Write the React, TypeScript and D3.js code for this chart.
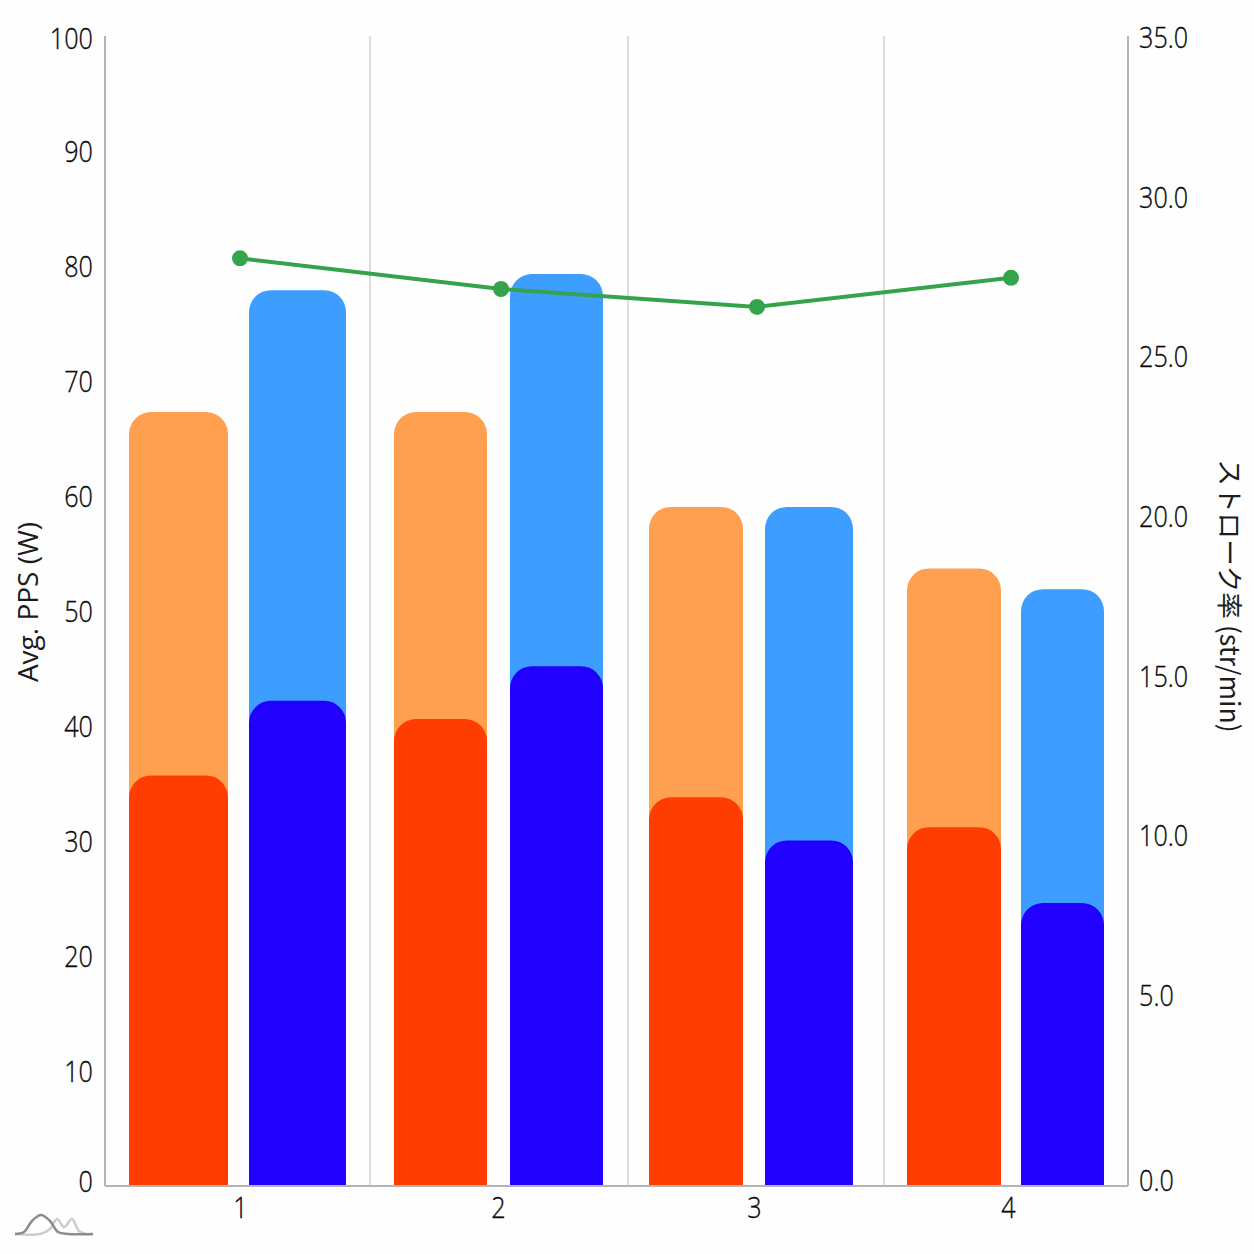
import { useEffect, useRef } from 'react';
import * as d3 from 'd3';

const intervals = ['1', '2', '3', '4'];
// interval lengths set the uneven width of each column
const intervalLengths = [26.5, 25.8, 25.6, 24.4];
const leftPeak = [67.3, 67.3, 59.05, 53.7];
const leftAvg = [35.7, 40.6, 33.8, 31.2];
const rightPeak = [77.9, 79.3, 59.05, 51.9];
const rightAvg = [42.2, 45.2, 30.05, 24.6];
const leftBarSize = [9.9, 9.3, 9.4, 9.4];
const rightBarSize = [9.7, 9.3, 8.8, 8.3];
const strokeRate = [28.1, 27.14, 26.58, 27.49];
const strokeRateAt = [13.5, 39.6, 65.2, 90.6];
const labelAt = [13.5, 39.3, 64.9, 90.3];
const powerTicks = [0, 10, 20, 30, 40, 50, 60, 70, 80, 90, 100];
const rateTicks = [0, 5, 10, 15, 20, 25, 30, 35];

const WIDTH = 1254;
const HEIGHT = 1254;
const LEFT = 105;
const RIGHT = 1128;
const TOP = 36;
const BOTTOM = 1186;
const RADIUS = 22;
// inset of the first bar and gap between the pair, per column, in x units
const barInset = [2.4, 2.4, 2.1, 2.3];
const barGap = [2.1, 2.3, 2.2, 2.0];

const FONT = '"Open Sans", sans-serif';
const SQUEEZE = 0.84;

const edges = d3.cumsum([0, ...intervalLengths]);

const x = d3.scaleLinear().domain([0, edges[edges.length - 1]]).range([LEFT, RIGHT]);
const yPower = d3.scaleLinear().domain([0, 100]).range([BOTTOM, TOP]);
// the printed right axis is not evenly spaced below 5.0
const yRate = d3.scaleLinear().domain([0, 5, 35]).range([1181, 996, 38]);

function topRounded(x0: number, x1: number, y0: number, y1: number, r: number) {
  const p = d3.path();
  p.moveTo(x0, y0);
  p.lineTo(x0, y1 + r);
  p.arcTo(x0, y1, x0 + r, y1, r);
  p.lineTo(x1 - r, y1);
  p.arcTo(x1, y1, x1, y1 + r, r);
  p.lineTo(x1, y0);
  p.closePath();
  return p.toString();
}

export default function App() {
  const ref = useRef<SVGSVGElement>(null);

  useEffect(() => {
    const svg = d3.select(ref.current);
    svg.selectAll('*').remove();

    svg.append('rect').attr('width', WIDTH).attr('height', HEIGHT).attr('fill', '#fefefe');

    // column separators
    svg
      .append('g')
      .selectAll('line')
      .data(edges.slice(1, -1))
      .join('line')
      .attr('x1', (d) => x(d))
      .attr('x2', (d) => x(d))
      .attr('y1', TOP)
      .attr('y2', BOTTOM)
      .attr('stroke', '#d2d2d2')
      .attr('stroke-width', 1.5);

    // bars, the lighter peak behind the darker average
    const bars = [
      { peak: leftPeak, avg: leftAvg, light: '#ff9f50', dark: '#ff3d00', side: 'left' },
      { peak: rightPeak, avg: rightAvg, light: '#3d9eff', dark: '#2200ff', side: 'right' },
    ];
    bars.forEach((b) => {
      const span = (i: number) => {
        const start = edges[i] + barInset[i];
        if (b.side === 'left') return [x(start), x(start + leftBarSize[i])];
        const s = start + leftBarSize[i] + barGap[i];
        return [x(s), x(s + rightBarSize[i])];
      };
      const g = svg.append('g');
      [
        { values: b.peak, color: b.light },
        { values: b.avg, color: b.dark },
      ].forEach((layer) => {
        g.selectAll(null)
          .data(layer.values)
          .join('path')
          .attr('fill', layer.color)
          .attr('d', (d, i) => {
            const [x0, x1] = span(i);
            return topRounded(x0, x1, BOTTOM, yPower(d), RADIUS);
          });
      });
    });

    // axes
    const leftAxis = svg
      .append('g')
      .attr('transform', `translate(${LEFT},0)`)
      .call(d3.axisLeft(yPower).tickValues(powerTicks).tickSize(0).tickPadding(12));
    const rightAxis = svg
      .append('g')
      .attr('transform', `translate(${RIGHT},0)`)
      .call(
        d3
          .axisRight(yRate)
          .tickValues(rateTicks)
          .tickSize(0)
          .tickPadding(11)
          .tickFormat((d) => d3.format('.1f')(d as number))
      );
    const bottomAxis = svg
      .append('g')
      .attr('transform', `translate(0,${BOTTOM})`)
      .call(
        d3
          .axisBottom(x)
          .tickValues(labelAt)
          .tickSize(0)
          .tickPadding(11)
          .tickFormat((_, i) => intervals[i])
      );

    [leftAxis, rightAxis].forEach((a) => {
      a.select('.domain').attr('d', `M0,${TOP}V${BOTTOM}`);
    });
    bottomAxis.select('.domain').attr('d', `M${LEFT},0H${RIGHT}`);
    [leftAxis, rightAxis, bottomAxis].forEach((a) => {
      a.select('.domain').attr('stroke', '#b4b4b4').attr('stroke-width', 2);
      a.selectAll('text')
        .attr('fill', '#0a0a0a')
        .attr('stroke', '#0a0a0a')
        .attr('stroke-width', 0.35)
        .style('font-family', FONT)
        .style('font-weight', 300)
        .style('font-size', '30px');
    });
    // squeeze the tick text sideways, anchored where the axis put it
    leftAxis
      .selectAll<SVGTextElement, number>('text')
      .attr('x', 0)
      .attr('transform', `translate(-12,0) scale(${SQUEEZE},1)`)
      .attr('dy', (d) => (d === 0 ? '0.18em' : d === 100 ? '0.4em' : '0.34em'));
    rightAxis
      .selectAll('text')
      .attr('x', 0)
      .attr('transform', `translate(11,0) scale(${SQUEEZE},1)`);
    bottomAxis
      .selectAll('text')
      .attr('transform', `scale(${SQUEEZE},1)`)
      .attr('transform-origin', '0 0');

    // stroke rate line
    const points = strokeRate.map((v, i) => [strokeRateAt[i], v] as [number, number]);
    const line = d3
      .line<[number, number]>()
      .x((d) => x(d[0]))
      .y((d) => yRate(d[1]));
    svg
      .append('path')
      .attr('d', line(points))
      .attr('fill', 'none')
      .attr('stroke', '#34a34c')
      .attr('stroke-width', 4);
    svg
      .append('g')
      .selectAll('circle')
      .data(points)
      .join('circle')
      .attr('cx', (d) => x(d[0]))
      .attr('cy', (d) => yRate(d[1]))
      .attr('r', 8)
      .attr('fill', '#34a34c');

    // axis titles
    svg
      .append('text')
      .attr('transform', 'translate(38,602) rotate(-90)')
      .attr('text-anchor', 'middle')
      .attr('fill', '#1c1c1c')
      .style('font-family', FONT)
      .style('font-size', '28px')
      .text('Avg. PPS (W)');
    svg
      .append('text')
      .attr('transform', 'translate(1220,596) rotate(90)')
      .attr('text-anchor', 'middle')
      .attr('fill', '#1c1c1c')
      .style('font-family', '"Noto Sans CJK JP", sans-serif')
      .style('font-size', '26.6px')
      .text('ストローク率 (str/min)');

    // little logo in the corner
    const logo = d3
      .line<[number, number]>()
      .x((d) => d[0])
      .y((d) => d[1])
      .curve(d3.curveCatmullRom);
    svg
      .append('path')
      .attr('d', logo([[15, 1234], [40, 1234], [50, 1229], [57, 1219], [64, 1227], [72, 1219], [79, 1231], [86, 1234], [93, 1234]]))
      .attr('fill', 'none')
      .attr('stroke', '#cccccc')
      .attr('stroke-width', 2.5);
    svg
      .append('path')
      .attr('d', logo([[15, 1234], [24, 1232], [32, 1221], [41, 1215], [50, 1221], [58, 1232], [68, 1234], [93, 1234]]))
      .attr('fill', 'none')
      .attr('stroke', '#8c8c8c')
      .attr('stroke-width', 2.5);
  }, []);

  return (
    <svg
      ref={ref}
      width={WIDTH}
      height={HEIGHT}
      style={{ position: 'absolute', left: 0, top: 0, display: 'block' }}
    />
  );
}
